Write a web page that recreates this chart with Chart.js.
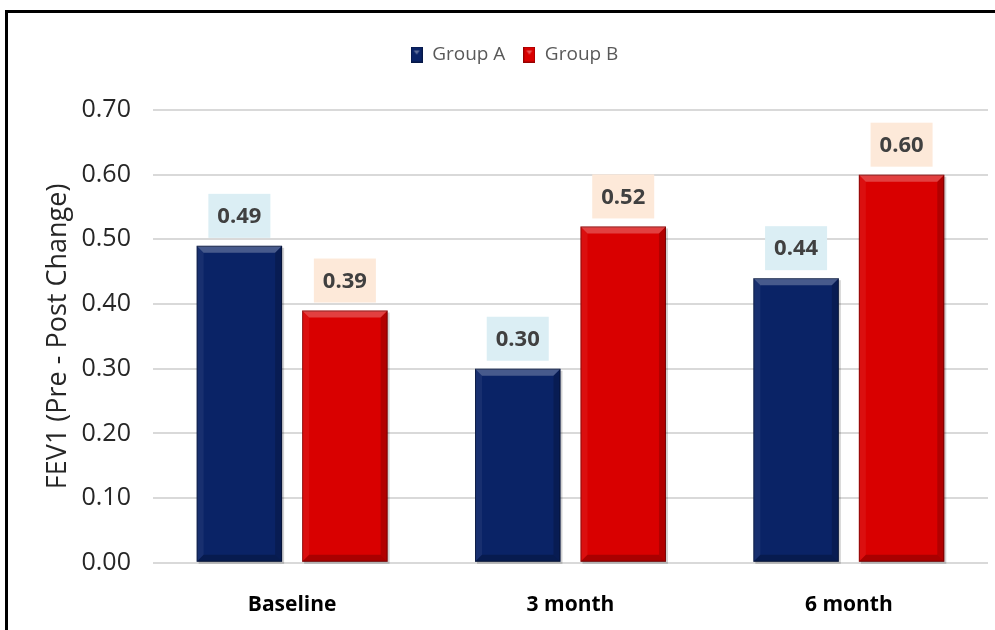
<!DOCTYPE html>
<html>
<head>
<meta charset="utf-8">
<script src="https://cdn.jsdelivr.net/npm/chart.js@4.4.1/dist/chart.umd.min.js"></script>
<style>
  html, body { margin: 0; padding: 0; background: #ffffff; overflow: hidden; }
  body { width: 995px; height: 630px; position: relative; }
  #frame {
    position: absolute; left: 5px; top: 10px;
    width: 1012px; height: 690px;
    border: 3px solid #000000; background: #ffffff;
  }
  #wrap { position: absolute; left: 0; top: 0; width: 1012px; height: 654px; }
</style>
</head>
<body>
<div id="frame">
  <div id="wrap"><canvas id="chart"></canvas></div>
</div>
<script>
// Datos del gráfico
const categories = ['Baseline', '3 month', '6 month'];
const groupA = [0.49, 0.30, 0.44];
const groupB = [0.39, 0.52, 0.60];
const seriesNames = ['Group A', 'Group B'];
const yTicks = [0.00, 0.10, 0.20, 0.30, 0.40, 0.50, 0.60, 0.70];
const yTitle = 'FEV1 (Pre - Post Change)';

// Colores
const colorA = '#0a2366';
const colorB = '#d90000';
const labelBgA = '#dbeef4';
const labelBgB = '#fde9d9';

// Icono del legend con efecto biselado
function makeLegendIcon(color) {
    const c = document.createElement('canvas');
    c.width = 12;
    c.height = 16;
    const g = c.getContext('2d');
    g.fillStyle = color;
    g.fillRect(0, 0, 12, 16);
    g.fillStyle = 'rgba(255,255,255,0.35)';
    g.beginPath();
    g.moveTo(3, 4); g.lineTo(9, 4); g.lineTo(6, 8); g.closePath();
    g.fill();
    g.strokeStyle = 'rgba(0,0,0,0.3)';
    g.strokeRect(0.5, 0.5, 11, 15);
    return c;
}

// Espacio extra debajo del legend
const legendMargin = {
    id: 'legendMargin',
    beforeInit(chart) {
        const fit = chart.legend.fit;
        chart.legend.fit = function () {
            fit.bind(chart.legend)();
            this.height += 36;
        };
    }
};

// Sombra detrás de las barras
const barShadow = {
    id: 'barShadow',
    beforeDatasetsDraw(chart) {
        const ctx = chart.ctx;
        ctx.save();
        chart.data.datasets.forEach((ds, i) => {
            chart.getDatasetMeta(i).data.forEach(el => {
                const left = el.x - el.width / 2;
                ctx.fillStyle = 'rgba(0,0,0,0.18)';
                ctx.fillRect(left + 2, el.y + 2, el.width, el.base - el.y);
            });
        });
        ctx.restore();
    }
};

// Bisel sobre cada barra
const barBevel = {
    id: 'barBevel',
    afterDatasetsDraw(chart) {
        const ctx = chart.ctx;
        const b = 7;
        ctx.save();
        chart.data.datasets.forEach((ds, i) => {
            chart.getDatasetMeta(i).data.forEach(el => {
                const l = el.x - el.width / 2;
                const r = el.x + el.width / 2;
                const t = el.y;
                const bt = el.base;
                // arriba
                ctx.fillStyle = 'rgba(255,255,255,0.25)';
                ctx.beginPath();
                ctx.moveTo(l, t); ctx.lineTo(r, t); ctx.lineTo(r - b, t + b); ctx.lineTo(l + b, t + b);
                ctx.closePath(); ctx.fill();
                // izquierda
                ctx.fillStyle = 'rgba(255,255,255,0.06)';
                ctx.beginPath();
                ctx.moveTo(l, t); ctx.lineTo(l + b, t + b); ctx.lineTo(l + b, bt - b); ctx.lineTo(l, bt);
                ctx.closePath(); ctx.fill();
                // derecha
                ctx.fillStyle = 'rgba(0,0,0,0.18)';
                ctx.beginPath();
                ctx.moveTo(r, t); ctx.lineTo(r - b, t + b); ctx.lineTo(r - b, bt - b); ctx.lineTo(r, bt);
                ctx.closePath(); ctx.fill();
                // abajo
                ctx.fillStyle = 'rgba(0,0,0,0.22)';
                ctx.beginPath();
                ctx.moveTo(l, bt); ctx.lineTo(l + b, bt - b); ctx.lineTo(r - b, bt - b); ctx.lineTo(r, bt);
                ctx.closePath(); ctx.fill();
                ctx.strokeStyle = 'rgba(0,0,0,0.35)';
                ctx.lineWidth = 1;
                ctx.strokeRect(l + 0.5, t + 0.5, el.width - 1, bt - t - 1);
            });
        });
        ctx.restore();
    }
};

// Etiquetas de valores con fondo
const valueLabels = {
    id: 'valueLabels',
    afterDatasetsDraw(chart) {
        const ctx = chart.ctx;
        ctx.save();
        ctx.font = 'bold 22px "Open Sans", sans-serif';
        ctx.textAlign = 'center';
        ctx.textBaseline = 'middle';
        chart.data.datasets.forEach((ds, i) => {
            const bg = i === 0 ? labelBgA : labelBgB;
            chart.getDatasetMeta(i).data.forEach((el, j) => {
                const w = 62, h = 44;
                const bottom = el.y - 8;
                ctx.fillStyle = bg;
                ctx.fillRect(el.x - w / 2, bottom - h, w, h);
                ctx.fillStyle = '#404040';
                ctx.fillText(ds.data[j].toFixed(2), el.x, bottom - h / 2 + 1);
            });
        });
        ctx.restore();
    }
};

const ctx = document.getElementById('chart').getContext('2d');
const chart = new Chart(ctx, {
    type: 'bar',
    data: {
        labels: categories,
        datasets: [
            {
                label: seriesNames[0],
                data: groupA,
                backgroundColor: colorA,
                pointStyle: makeLegendIcon(colorA),
                categoryPercentage: 0.758,
                barPercentage: 0.81
            },
            {
                label: seriesNames[1],
                data: groupB,
                backgroundColor: colorB,
                pointStyle: makeLegendIcon(colorB),
                categoryPercentage: 0.758,
                barPercentage: 0.81
            }
        ]
    },
    options: {
        responsive: true,
        maintainAspectRatio: false,
        animation: false,
        layout: {
            padding: { top: 14, left: 33, right: 32, bottom: 19 }
        },
        scales: {
            x: {
                grid: { display: false, drawTicks: false },
                border: { display: false },
                ticks: {
                    padding: 30,
                    color: '#000000',
                    font: { family: '"Open Sans", sans-serif', size: 21, weight: 'bold' }
                }
            },
            y: {
                min: 0,
                max: 0.7,
                afterBuildTicks: (axis) => {
                    axis.ticks = yTicks.map(v => ({ value: v }));
                },
                grid: { color: '#d9d9d9', lineWidth: 2, drawTicks: false },
                border: { display: false },
                ticks: {
                    padding: 22,
                    color: '#262626',
                    font: { family: '"Open Sans", sans-serif', size: 25 },
                    callback: (v) => Number(v).toFixed(2)
                },
                title: {
                    display: true,
                    text: yTitle,
                    color: '#262626',
                    padding: { top: 3.5, bottom: -12 },
                    font: { family: '"Open Sans", sans-serif', size: 27, lineHeight: 1 }
                }
            }
        },
        plugins: {
            legend: {
                display: true,
                position: 'top',
                labels: {
                    usePointStyle: true,
                    boxWidth: 12,
                    boxHeight: 16,
                    color: '#595959',
                    padding: 18,
                    font: { family: '"Open Sans", sans-serif', size: 19 }
                }
            },
            tooltip: { enabled: false }
        }
    },
    plugins: [legendMargin, barShadow, barBevel, valueLabels]
});
</script>
</body>
</html>
